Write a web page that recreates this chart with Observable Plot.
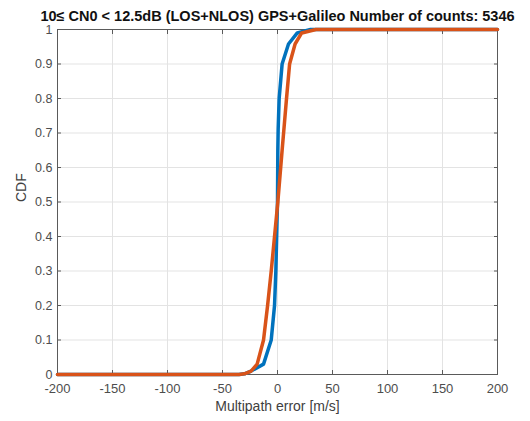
<!DOCTYPE html>
<html><head><meta charset="utf-8">
<script src="https://cdn.jsdelivr.net/npm/d3@7"></script>
<script src="https://cdn.jsdelivr.net/npm/@observablehq/plot@0.6"></script>
<style>body{margin:0;background:#fff}</style>
</head><body><div id="chart"></div><script>
const titleText = "10\u2264 CN0 < 12.5dB (LOS+NLOS) GPS+Galileo Number of counts: 5346";
const xLabel = "Multipath error [m/s]";
const yLabel = "CDF";
const xTicks = [-200, -150, -100, -50, 0, 50, 100, 150, 200];
const yTicks = [0, 0.1, 0.2, 0.3, 0.4, 0.5, 0.6, 0.7, 0.8, 0.9, 1];
const cdfLevels = [0, 0, 0.002, 0.01, 0.03, 0.1, 0.2, 0.3, 0.5, 0.65, 0.71, 0.8, 0.9, 0.958, 0.99, 1, 1];
const blueX   = [-200, -35, -30, -24, -12.7, -5.7, -2.7, -1.5, 0, 0.3, 0.6, 1.5, 4.2, 10, 18, 30, 200];
const orangeX = [-200, -35, -30, -24, -18.5, -12.7, -9, -5.7, 0.3, 4.2, 5.8, 8.2, 11, 16, 22, 35, 200];

const blue = blueX.map((x, i) => ({x, y: cdfLevels[i]}));
const orange = orangeX.map((x, i) => ({x, y: cdfLevels[i]}));

const chart = Plot.plot({
  width: 530, height: 421,
  marginLeft: 57, marginRight: 33, marginTop: 29, marginBottom: 47,
  style: {fontFamily: "'Liberation Sans', Arial, sans-serif", fontSize: "13px", background: "#fff", color: "#4d4d4d"},
  x: {domain: [-200, 200]},
  y: {domain: [0, 1]},
  marks: [
    Plot.gridX(xTicks, {stroke: "#e3e3e3", strokeOpacity: 1}),
    Plot.gridY(yTicks, {stroke: "#e3e3e3", strokeOpacity: 1}),
    Plot.frame({stroke: "#5a5a5a", strokeWidth: 1}),
    Plot.axisX(xTicks, {anchor: "bottom", tickSize: -4, tickPadding: 13, tickFormat: d => String(d), label: null, stroke: "#5a5a5a", fill: "#4d4d4d", fontSize: 13}),
    Plot.axisX(xTicks, {anchor: "top", tickSize: -4, tickFormat: () => "", label: null, stroke: "#5a5a5a"}),
    Plot.axisY(yTicks, {anchor: "left", tickSize: -4, tickPadding: 9, tickFormat: d => String(d), label: null, stroke: "#5a5a5a", fill: "#4d4d4d", fontSize: 12.5}),
    Plot.axisY(yTicks, {anchor: "right", tickSize: -4, tickFormat: () => "", label: null, stroke: "#5a5a5a"}),
    Plot.line(blue, {x: "x", y: "y", stroke: "#0072BD", strokeWidth: 3.5}),
    Plot.line(orange, {x: "x", y: "y", stroke: "#D95319", strokeWidth: 3.5}),
    Plot.text([titleText], {frameAnchor: "top", dy: -19, fontWeight: "bold", fontSize: 14.5, fill: "#111"}),
    Plot.text([xLabel], {frameAnchor: "bottom", dy: 36, fontSize: 14, fill: "#404040"}),
    Plot.text([yLabel], {frameAnchor: "left", dx: -36, rotate: -90, fontSize: 14, fill: "#404040"})
  ]
});
document.getElementById("chart").append(chart);
</script></body></html>
